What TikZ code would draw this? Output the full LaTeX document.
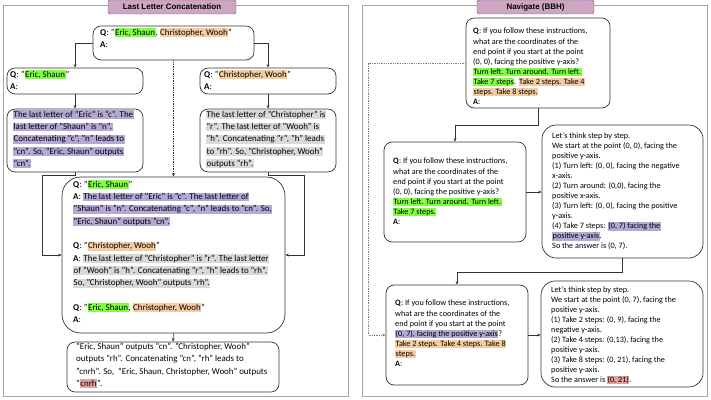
\documentclass[tikz,border=0pt]{standalone}
\usepackage{fontspec}
\setmainfont{Carlito}
\newfontfamily\titlefont{Liberation Sans}
\usepackage{xcolor}
\usetikzlibrary{positioning, calc, fit, arrows.meta}
\definecolor{hlgreen}{RGB}{128,255,64}
\definecolor{hlorange}{RGB}{246,203,160}
\definecolor{hlpurple}{RGB}{180,168,214}
\definecolor{hlgray}{RGB}{217,217,217}
\definecolor{hlred}{RGB}{226,160,160}
\definecolor{titlefill}{RGB}{205,166,196}
\definecolor{framegray}{RGB}{165,165,165}
\newcommand{\hl}[2]{{\setlength{\fboxsep}{0.4pt}\colorbox{#1}{\vphantom{(y"}#2}}}

\begin{document}
\begin{tikzpicture}[x=0.03cm, y=-0.03cm]
	\tikzstyle{panel}=[draw=framegray, line width=0.8pt, inner sep=0pt]
	\tikzstyle{title}=[draw=black!60, fill=titlefill, rounded corners=2pt, inner sep=0pt, font=\titlefont\bfseries\fontsize{6.8}{8}\selectfont]
	\tikzstyle{box}=[draw=black!80, rounded corners=7pt, inner sep=0pt, line width=0.6pt]
	\tikzstyle{txt}=[inner sep=0pt, anchor=north west, align=left, font=\fontsize{7.6}{10.5}\selectfont]
	\tikzstyle{txtr}=[inner sep=0pt, anchor=north west, align=left, font=\fontsize{7}{8.6}\selectfont]
	\tikzstyle{arr}=[-{Stealth[length=3pt, width=2.5pt]}, black!80, line width=0.5pt]

	\useasboundingbox (0,0) rectangle (711,400);

	% left panel
	\node[panel, fit={(3,5) (348,396)}] (lpanel) {};
	\node[title, fit={(108,0) (236,14)}] (ltitle) {};
	\node at (ltitle.center) [title, draw=none, fill=none] {Last Letter Concatenation};

	\node[box, fit={(93,26) (254,60)}] (root) {};
	\node[box, fit={(7,68) (143,94)}] (lq) {};
	\node[box, fit={(200,68) (336,94)}] (rq) {};
	\node[box, fit={(7,109) (143,172)}] (la) {};
	\node[box, fit={(200,109) (336,172)}] (ra) {};
	\node[box, rounded corners=16pt, fit={(62,177) (285,333)}] (big) {};
	\node[box, fit={(67,342) (279,392)}] (final) {};

	\node[txt] (root-t) at (100,28) {\textbf{Q}: "\hl{hlgreen}{Eric, Shaun}, \hl{hlorange}{Christopher, Wooh}"\\\textbf{A}:};
	\node[txt] (lq-t) at (10,70) {\textbf{Q}: "\hl{hlgreen}{Eric, Shaun}"\\\textbf{A}:};
	\node[txt] (rq-t) at (204,70) {\textbf{Q}: "\hl{hlorange}{Christopher, Wooh}"\\\textbf{A}:};
	\node[txt] (la-t) at (13,110) {\hl{hlpurple}{The last letter of "Eric" is "c". The}\\
		\hl{hlpurple}{last letter of "Shaun" is "n".}\\
		\hl{hlpurple}{Concatenating "c", "n" leads to}\\
		\hl{hlpurple}{"cn". So, "Eric, Shaun" outputs}\\
		\hl{hlpurple}{"cn".}};
	\node[txt] (ra-t) at (206,110) {\hl{hlgray}{The last letter of "Christopher" is}\\
		\hl{hlgray}{"r". The last letter of "Wooh" is}\\
		\hl{hlgray}{"h". Concatenating "r", "h" leads}\\
		\hl{hlgray}{to "rh". So, "Christopher, Wooh"}\\
		\hl{hlgray}{outputs "rh".}};
	\node[txt] (big-t) at (73,180) {\textbf{Q}: "\hl{hlgreen}{Eric, Shaun}"\\
		\textbf{A}: \hl{hlpurple}{The last letter of "Eric" is "c". The last letter of}\\
		\hl{hlpurple}{"Shaun" is "n". Concatenating "c", "n" leads to "cn". So,}\\
		\hl{hlpurple}{"Eric, Shaun" outputs "cn".}\\[10.5pt]
		\textbf{Q}: "\hl{hlorange}{Christopher, Wooh}"\\
		\textbf{A}: \hl{hlgray}{The last letter of "Christopher" is "r". The last letter}\\
		\hl{hlgray}{of "Wooh" is "h". Concatenating "r", "h" leads to "rh".}\\
		\hl{hlgray}{So, "Christopher, Wooh" outputs "rh".}\\[10.5pt]
		\textbf{Q}: "\hl{hlgreen}{Eric, Shaun}, \hl{hlorange}{Christopher, Wooh}"\\
		\textbf{A}:};
	\node[txt] (final-t) at (76,343) {"Eric, Shaun" outputs "cn". "Christopher, Wooh"\\
		outputs "rh". Concatenating "cn", "rh" leads to\\
		"cnrh". So,~ "Eric, Shaun, Christopher, Wooh" outputs\\
		"\hl{hlred}{cnrh}".};

	\draw[arr] (root.west) -| (lq.north);
	\draw[arr] (root.east) -| (rq.north);
	\draw[arr] (lq.south) -- (la.north);
	\draw[arr] (rq.south) -- (ra.north);
	\draw[arr, densely dotted] (root.south) -- (big.north);
	\draw[arr] (la.south) |- (42,175) |- (big.west);
	\draw[arr] (ra.south) |- (304,175) |- (big.east);
	\draw[arr] (big.south) -- (final.north);

	% right panel
	\node[panel, fit={(362,5) (707,396)}] (rpanel) {};
	\node[title, fit={(477,0) (594,14)}] (rtitle) {};
	\node at (rtitle.center) [title, draw=none, fill=none] {Navigate (BBH)};

	\node[box, fit={(466,18) (610,108)}] (top) {};
	\node[box, fit={(384,142) (526,242)}] (ml) {};
	\node[box, rounded corners=12pt, fit={(542,125) (703,258)}] (mr) {};
	\node[box, fit={(386,285) (528,385)}] (bl) {};
	\node[box, rounded corners=12pt, fit={(541,281) (703,387)}] (br) {};

	\node[txtr] (top-t) at (473,28) {\textbf{Q}: If you follow these instructions,\\
		what are the coordinates of the\\
		end point if you start at the point\\
		(0, 0), facing the positive y-axis?\\
		\hl{hlgreen}{Turn left. Turn around. Turn left.}\\
		\hl{hlgreen}{Take 7 steps}. \hl{hlorange}{Take 2 steps. Take 4}\\
		\hl{hlorange}{steps. Take 8 steps.}\\
		\textbf{A}:};
	\node[txtr] (ml-t) at (393,158) {\textbf{Q}: If you follow these instructions,\\
		what are the coordinates of the\\
		end point if you start at the point\\
		(0, 0), facing the positive y-axis?\\
		\hl{hlgreen}{Turn left. Turn around. Turn left.}\\
		\hl{hlgreen}{Take 7 steps.}\\
		\textbf{A}:};
	\node[txtr] (mr-t) at (552,132) {Let's think step by step.\\
		We start at the point (0, 0), facing the\\
		positive y-axis.\\
		(1) Turn left: (0, 0), facing the negative\\
		x-axis.\\
		(2) Turn around: (0,0), facing the\\
		positive x-axis.\\
		(3) Turn left: (0, 0), facing the positive\\
		y-axis.\\
		(4) Take 7 steps: \hl{hlpurple}{(0, 7) facing the}\\
		\hl{hlpurple}{positive y-axis}.\\
		So the answer is (0, 7).};
	\node[txtr] (bl-t) at (395,300) {\textbf{Q}: If you follow these instructions,\\
		what are the coordinates of the\\
		end point if you start at the point\\
		\hl{hlpurple}{(0, 7), facing the positive y-axis}?\\
		\hl{hlorange}{Take 2 steps. Take 4 steps. Take 8}\\
		\hl{hlorange}{steps.}\\
		\textbf{A}:};
	\node[txtr] (br-t) at (551,286) {Let's think step by step.\\
		We start at the point (0, 7), facing the\\
		positive y-axis.\\
		(1) Take 2 steps: (0, 9), facing the\\
		negative y-axis.\\
		(2) Take 4 steps: (0,13), facing the\\
		positive y-axis.\\
		(3) Take 8 steps: (0, 21), facing the\\
		positive y-axis.\\
		So the answer is \hl{hlred}{(0, 21)}.};

	\draw[arr] (top.south) -- ++(0,17) -| (ml.north);
	\draw[arr] (ml.east) -- (ml.east -| mr.west);
	\draw[arr] (mr.south) -- ++(0,14) -| (bl.north);
	\draw[arr] (bl.east) -- (bl.east -| br.west);
	\draw[arr, densely dotted, black!50] (top.west) -| ($(bl.west)+(-17,0)$) -- (bl.west);
\end{tikzpicture}
\end{document}
